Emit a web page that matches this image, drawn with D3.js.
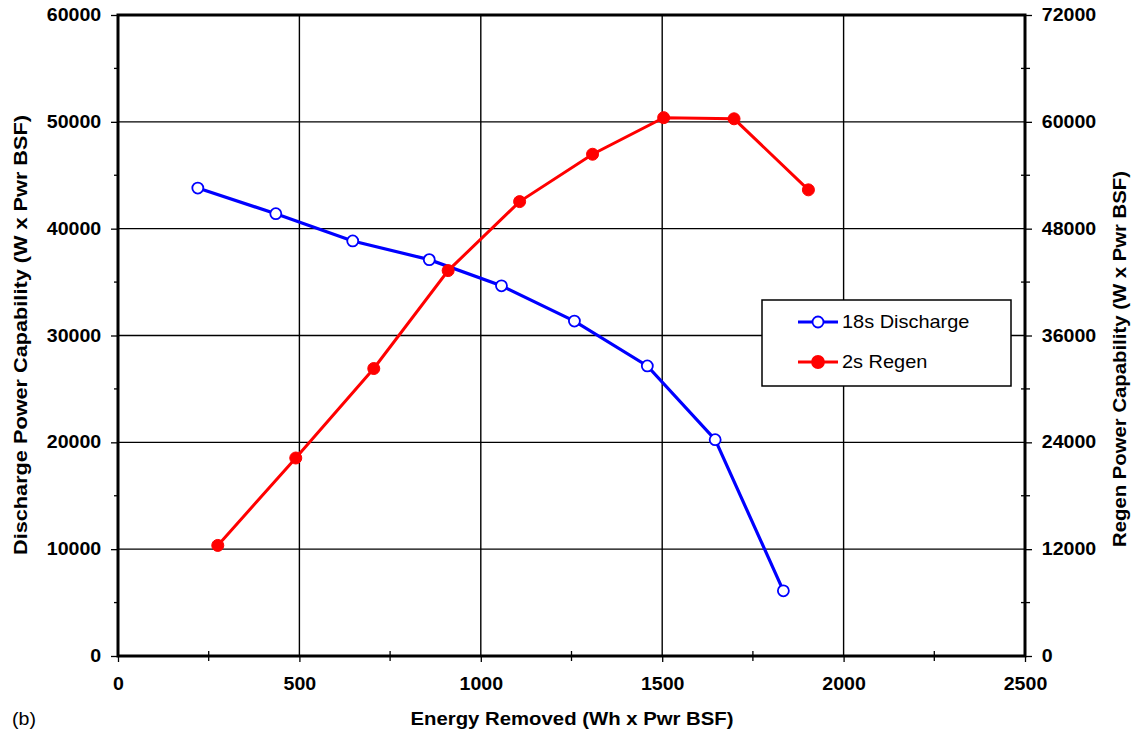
<!DOCTYPE html>
<html>
<head>
<meta charset="utf-8">
<script src="https://cdn.jsdelivr.net/npm/d3@7"></script>
<style>
  html, body { margin: 0; padding: 0; background: #fff; }
  svg { display: block; font-family: "Liberation Sans", Arial, sans-serif; }
</style>
</head>
<body>
<svg id="chart" width="1132" height="733"></svg>
<script>
// Energy removed (Wh x Pwr BSF) for each test point
const dischargeEnergy = [220, 435, 647, 858, 1057, 1258, 1459, 1646, 1834];
const dischargePower  = [43800, 41400, 38850, 37100, 34650, 31350, 27150, 20250, 6100];

const regenEnergy = [275, 490, 705, 910, 1107, 1308, 1504, 1698, 1903];
const regenPower  = [12420, 22240, 32290, 43290, 51040, 56360, 60470, 60340, 52360];

const xTicks      = [0, 500, 1000, 1500, 2000, 2500];
const leftTicks   = [0, 10000, 20000, 30000, 40000, 50000, 60000];
const rightTicks  = [0, 12000, 24000, 36000, 48000, 60000, 72000];

const seriesNames = ["18s Discharge", "2s Regen"];

const svg = d3.select("#chart");
const m = { left: 118, right: 1025, top: 15, bottom: 656 };

const x  = d3.scaleLinear().domain([0, 2500]).range([m.left, m.right]);
const yL = d3.scaleLinear().domain([0, 60000]).range([m.bottom, m.top]);
const yR = d3.scaleLinear().domain([0, 72000]).range([m.bottom, m.top]);

const fontSize = "17.5px";
const wide = 1.12; // horizontal widening of the lettering

// gridlines
const grid = svg.append("g");
grid.selectAll("line.v").data(xTicks.slice(1, -1)).join("line")
  .attr("x1", d => x(d)).attr("x2", d => x(d))
  .attr("y1", m.top).attr("y2", m.bottom)
  .attr("stroke", "#000").attr("stroke-width", 1.4);
grid.selectAll("line.h").data(leftTicks.slice(1, -1)).join("line")
  .attr("x1", m.left).attr("x2", m.right)
  .attr("y1", d => yL(d)).attr("y2", d => yL(d))
  .attr("stroke", "#000").attr("stroke-width", 1.4);

// minor ticks
const minor = svg.append("g").attr("stroke", "#000").attr("stroke-width", 1.3);
minor.selectAll("line.mx").data(d3.range(250, 2500, 500)).join("line")
  .attr("x1", d => x(d)).attr("x2", d => x(d))
  .attr("y1", m.bottom - 5).attr("y2", m.bottom + 5);
minor.selectAll("line.ml").data(d3.range(5000, 60000, 10000)).join("line")
  .attr("x1", m.left - 4).attr("x2", m.left + 1)
  .attr("y1", d => yL(d)).attr("y2", d => yL(d));
minor.selectAll("line.mr").data(d3.range(6000, 72000, 12000)).join("line")
  .attr("x1", m.right - 4).attr("x2", m.right + 5)
  .attr("y1", d => yR(d)).attr("y2", d => yR(d));

// axes
const xAxis = svg.append("g").attr("transform", `translate(0,${m.bottom})`)
  .call(d3.axisBottom(x).tickValues(xTicks).tickSize(6).tickPadding(16).tickFormat(d3.format("d")));
const lAxis = svg.append("g").attr("transform", `translate(${m.left},0)`)
  .call(d3.axisLeft(yL).tickValues(leftTicks).tickSize(7).tickPadding(8).tickFormat(d3.format("d")));
const rAxis = svg.append("g").attr("transform", `translate(${m.right},0)`)
  .call(d3.axisRight(yR).tickValues(rightTicks).tickSize(7).tickPadding(8).tickFormat(d3.format("d")));

[xAxis, lAxis, rAxis].forEach(a => {
  a.select(".domain").remove();
  a.selectAll(".tick line").attr("stroke", "#000").attr("stroke-width", 1.3);
  a.selectAll(".tick text").attr("font-size", fontSize).attr("font-weight", "bold")
    .attr("fill", "#000").attr("font-family", "Liberation Sans, Arial, sans-serif")
    .attr("transform", `scale(${wide},1)`);
});

// plot frame
svg.append("rect")
  .attr("x", m.left).attr("y", m.top)
  .attr("width", m.right - m.left).attr("height", m.bottom - m.top)
  .attr("fill", "none").attr("stroke", "#000").attr("stroke-width", 3);

// series
const dischargeData = dischargeEnergy.map((e, i) => [e, dischargePower[i]]);
const regenData = regenEnergy.map((e, i) => [e, regenPower[i]]);

const lineL = d3.line().x(d => x(d[0])).y(d => yL(d[1]));
const lineR = d3.line().x(d => x(d[0])).y(d => yR(d[1]));

svg.append("path").datum(dischargeData).attr("d", lineL)
  .attr("fill", "none").attr("stroke", "#0000ff").attr("stroke-width", 3.2);
svg.append("path").datum(regenData).attr("d", lineR)
  .attr("fill", "none").attr("stroke", "#ff0000").attr("stroke-width", 3);

svg.append("g").selectAll("circle").data(dischargeData).join("circle")
  .attr("cx", d => x(d[0])).attr("cy", d => yL(d[1])).attr("r", 5.5)
  .attr("fill", "#fff").attr("stroke", "#0000ff").attr("stroke-width", 1.8);
svg.append("g").selectAll("circle").data(regenData).join("circle")
  .attr("cx", d => x(d[0])).attr("cy", d => yR(d[1])).attr("r", 6)
  .attr("fill", "#ff0000").attr("stroke", "#ff0000").attr("stroke-width", 1);

// legend
const lg = svg.append("g");
lg.append("rect").attr("x", 762).attr("y", 300).attr("width", 249).attr("height", 86)
  .attr("fill", "#fff").attr("stroke", "#000").attr("stroke-width", 1.5);
const legendRows = [
  { name: seriesNames[0], color: "#0000ff", fill: "#fff", y: 322, r: 5.5 },
  { name: seriesNames[1], color: "#ff0000", fill: "#ff0000", y: 362, r: 6 }
];
legendRows.forEach(r => {
  lg.append("line").attr("x1", 798).attr("x2", 838).attr("y1", r.y).attr("y2", r.y)
    .attr("stroke", r.color).attr("stroke-width", 3);
  lg.append("circle").attr("cx", 818).attr("cy", r.y).attr("r", r.r)
    .attr("fill", r.fill).attr("stroke", r.color).attr("stroke-width", 1.8);
  lg.append("text").attr("transform", `translate(842,${r.y + 6}) scale(${wide + 0.02},1)`)
    .attr("font-size", fontSize).attr("fill", "#000").text(r.name);
});

// titles
svg.append("text").attr("x", 572).attr("y", 725).attr("text-anchor", "middle")
  .attr("font-size", fontSize).attr("font-weight", "bold")
  .attr("textLength", 323).attr("lengthAdjust", "spacingAndGlyphs")
  .text("Energy Removed (Wh x Pwr BSF)");
svg.append("text").attr("transform", "translate(27,335) rotate(-90)").attr("text-anchor", "middle")
  .attr("font-size", "18px").attr("font-weight", "bold")
  .attr("textLength", 440).attr("lengthAdjust", "spacingAndGlyphs")
  .text("Discharge Power Capability (W x Pwr BSF)");
svg.append("text").attr("transform", "translate(1126,359) rotate(-90)").attr("text-anchor", "middle")
  .attr("font-size", "18px").attr("font-weight", "bold")
  .attr("textLength", 376).attr("lengthAdjust", "spacingAndGlyphs")
  .text("Regen Power Capability (W x Pwr BSF)");
svg.append("text").attr("transform", `translate(12,725) scale(${wide},1)`)
  .attr("font-size", fontSize).text("(b)");
</script>
</body>
</html>
